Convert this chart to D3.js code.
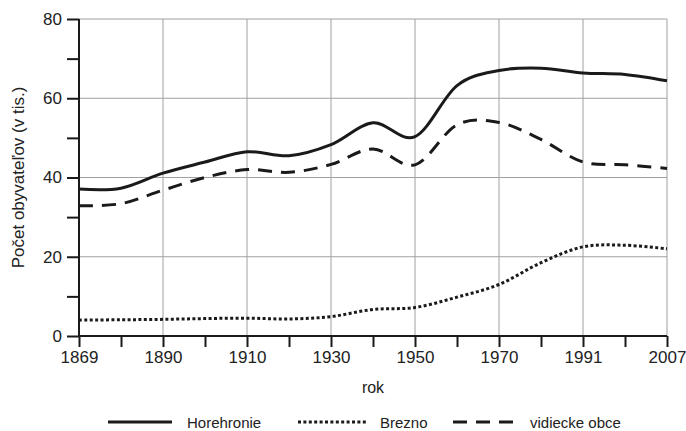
<!DOCTYPE html>
<html>
<head>
<meta charset="utf-8">
<script src="https://cdn.jsdelivr.net/npm/d3@7/dist/d3.min.js"></script>
<style>
  html, body { margin: 0; padding: 0; background: #fff; }
  svg { display: block; font-family: "Liberation Sans", Arial, Helvetica, sans-serif; }
</style>
</head>
<body>
<svg id="chart" width="686" height="431"></svg>
<script>
const years = [1869, 1880, 1890, 1900, 1910, 1921, 1930, 1940, 1950, 1961, 1970, 1980, 1991, 2001, 2007];
const labeledYears = [1869, 1890, 1910, 1930, 1950, 1970, 1991, 2007];
const horehronie = [37.1, 37.3, 41.1, 43.9, 46.5, 45.5, 48.3, 53.8, 50.3, 63.2, 67.0, 67.6, 66.4, 66.0, 64.4];
const brezno = [4.0, 4.1, 4.2, 4.4, 4.5, 4.3, 4.9, 6.7, 7.2, 9.8, 13.0, 18.5, 22.5, 22.9, 22.0];
const vidiecke = [32.9, 33.4, 36.8, 40.0, 42.0, 41.3, 43.3, 47.2, 43.2, 53.3, 53.9, 49.6, 43.9, 43.2, 42.3];
const yMajorTicks = [0, 20, 40, 60, 80];
const yMinorTicks = [10, 30, 50, 70];
const seriesNames = ["Horehronie", "Brezno", "vidiecke obce"];

(function () {
const svg = d3.select("#chart");
const mLeft = 79, mRight = 667, mTop = 19, mBottom = 336;

const x = d3.scalePoint().domain(years).range([mLeft, mRight]);
const y = d3.scaleLinear().domain([0, 80]).range([mBottom, mTop]);

const textColor = "#222";
const gridColor = "#a0a0a0";

// grid
const grid = svg.append("g");
grid.selectAll("line.vg").data(labeledYears).join("line")
  .attr("class", "vg")
  .attr("x1", d => x(d)).attr("x2", d => x(d))
  .attr("y1", mTop).attr("y2", mBottom)
  .attr("stroke", gridColor).attr("stroke-width", 1);
grid.selectAll("line.hg").data(yMajorTicks.filter(d => d > 0)).join("line")
  .attr("class", "hg")
  .attr("x1", mLeft).attr("x2", mRight)
  .attr("y1", d => y(d)).attr("y2", d => y(d))
  .attr("stroke", gridColor).attr("stroke-width", 1);

// series
const styles = [
  { data: horehronie, dash: null, width: 3 },
  { data: brezno, dash: "3,2.4", width: 3 },
  { data: vidiecke, dash: "14,9", width: 3 }
];
const line = d3.line()
  .x((d, i) => x(years[i]))
  .y(d => y(d))
  .curve(d3.curveCardinal.tension(0));

styles.forEach(s => {
  svg.append("path")
    .datum(s.data)
    .attr("d", line)
    .attr("fill", "none")
    .attr("stroke", "#1a1a1a")
    .attr("stroke-width", s.width)
    .attr("stroke-dasharray", s.dash);
});

// axes
const xAxis = d3.axisBottom(x)
  .tickValues(years)
  .tickSize(11)
  .tickPadding(4)
  .tickFormat(d => labeledYears.includes(d) ? d : "");
const gx = svg.append("g").attr("transform", `translate(0,${mBottom})`).call(xAxis);
gx.select(".domain").attr("stroke", "#1a1a1a").attr("stroke-width", 2).attr("d", `M${mLeft},0H${mRight}`);
gx.selectAll(".tick line").attr("stroke", "#1a1a1a").attr("stroke-width", 2);
gx.selectAll(".tick text").attr("fill", textColor).attr("font-size", 17).attr("font-family", "Liberation Sans, Arial, sans-serif");

const yAxis = d3.axisLeft(y)
  .tickValues(yMajorTicks.concat(yMinorTicks))
  .tickSize(12)
  .tickPadding(5)
  .tickFormat(d => yMajorTicks.includes(d) ? d : "");
const gy = svg.append("g").attr("transform", `translate(${mLeft},0)`).call(yAxis);
gy.select(".domain").attr("stroke", "#1a1a1a").attr("stroke-width", 2).attr("d", `M0,${mTop}V${mBottom}`);
gy.selectAll(".tick line").attr("stroke", "#1a1a1a").attr("stroke-width", 2);
gy.selectAll(".tick text").attr("fill", textColor).attr("font-size", 17).attr("font-family", "Liberation Sans, Arial, sans-serif");

// axis titles
svg.append("text")
  .attr("x", (mLeft + mRight) / 2).attr("y", 393)
  .attr("text-anchor", "middle")
  .attr("font-size", 16).attr("fill", textColor)
  .text("rok");
svg.append("text")
  .attr("transform", `translate(24,${(mTop + mBottom) / 2}) rotate(-90)`)
  .attr("text-anchor", "middle")
  .attr("font-size", 17).attr("fill", textColor)
  .text("Počet obyvateľov (v tis.)");

// legend
const legendItems = [
  { name: seriesNames[0], dash: null, x1: 108, x2: 172, tx: 187 },
  { name: seriesNames[1], dash: "3,2.4", x1: 298, x2: 366, tx: 380 },
  { name: seriesNames[2], dash: "14,9", x1: 453, x2: 516, tx: 530 }
];
const lg = svg.append("g");
legendItems.forEach(it => {
  lg.append("line")
    .attr("x1", it.x1).attr("x2", it.x2)
    .attr("y1", 422).attr("y2", 422)
    .attr("stroke", "#1a1a1a").attr("stroke-width", 3)
    .attr("stroke-dasharray", it.dash);
  lg.append("text")
    .attr("x", it.tx).attr("y", 428)
    .attr("font-size", 15).attr("fill", textColor)
    .text(it.name);
});
})();
</script>
</body>
</html>
